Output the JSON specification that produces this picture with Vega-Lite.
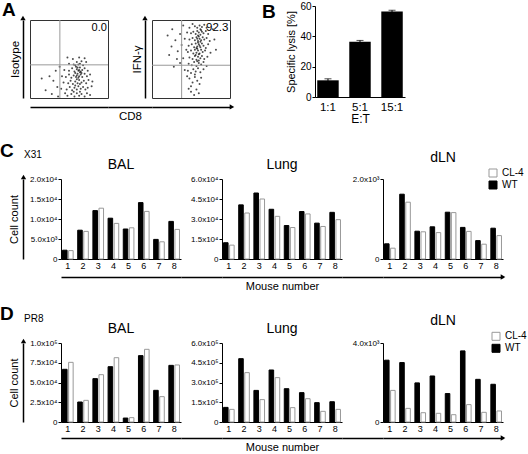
{
"$schema": "https://vega.github.io/schema/vega-lite/v6.json",
"background": "white",
"padding": {"left": 0, "top": 0, "right": 0, "bottom": 0},
"config": {
  "view": {"stroke": null},
  "font": "Liberation Sans",
  "axis": {"domainColor": "black", "tickColor": "black", "labelColor": "black", "titleColor": "black", "grid": false, "labelFont": "Liberation Sans", "titleFont": "Liberation Sans", "titleFontWeight": "normal", "domainWidth": 1, "tickWidth": 1},
  "title": {"font": "Liberation Sans", "fontWeight": "normal", "color": "black", "baseline": "alphabetic"},
  "legend": {"labelFont": "Liberation Sans", "labelColor": "black"}
},
"datasets": {
  "cells": [
    {"virus":"X31","organ":"BAL","mouse":1,"strain":"WT","count":2200},{"virus":"X31","organ":"BAL","mouse":1,"strain":"CL-4","count":2100},
    {"virus":"X31","organ":"BAL","mouse":2,"strain":"WT","count":7200},{"virus":"X31","organ":"BAL","mouse":2,"strain":"CL-4","count":6900},
    {"virus":"X31","organ":"BAL","mouse":3,"strain":"WT","count":12100},{"virus":"X31","organ":"BAL","mouse":3,"strain":"CL-4","count":12700},
    {"virus":"X31","organ":"BAL","mouse":4,"strain":"WT","count":10200},{"virus":"X31","organ":"BAL","mouse":4,"strain":"CL-4","count":8900},
    {"virus":"X31","organ":"BAL","mouse":5,"strain":"WT","count":7500},{"virus":"X31","organ":"BAL","mouse":5,"strain":"CL-4","count":7800},
    {"virus":"X31","organ":"BAL","mouse":6,"strain":"WT","count":14100},{"virus":"X31","organ":"BAL","mouse":6,"strain":"CL-4","count":11900},
    {"virus":"X31","organ":"BAL","mouse":7,"strain":"WT","count":4900},{"virus":"X31","organ":"BAL","mouse":7,"strain":"CL-4","count":4300},
    {"virus":"X31","organ":"BAL","mouse":8,"strain":"WT","count":9400},{"virus":"X31","organ":"BAL","mouse":8,"strain":"CL-4","count":7400},
    {"virus":"X31","organ":"Lung","mouse":1,"strain":"WT","count":12200},{"virus":"X31","organ":"Lung","mouse":1,"strain":"CL-4","count":10400},
    {"virus":"X31","organ":"Lung","mouse":2,"strain":"WT","count":40600},{"virus":"X31","organ":"Lung","mouse":2,"strain":"CL-4","count":34500},
    {"virus":"X31","organ":"Lung","mouse":3,"strain":"WT","count":49500},{"virus":"X31","organ":"Lung","mouse":3,"strain":"CL-4","count":45000},
    {"virus":"X31","organ":"Lung","mouse":4,"strain":"WT","count":37300},{"virus":"X31","organ":"Lung","mouse":4,"strain":"CL-4","count":32000},
    {"virus":"X31","organ":"Lung","mouse":5,"strain":"WT","count":25100},{"virus":"X31","organ":"Lung","mouse":5,"strain":"CL-4","count":23600},
    {"virus":"X31","organ":"Lung","mouse":6,"strain":"WT","count":35600},{"virus":"X31","organ":"Lung","mouse":6,"strain":"CL-4","count":33800},
    {"virus":"X31","organ":"Lung","mouse":7,"strain":"WT","count":26900},{"virus":"X31","organ":"Lung","mouse":7,"strain":"CL-4","count":24400},
    {"virus":"X31","organ":"Lung","mouse":8,"strain":"WT","count":35000},{"virus":"X31","organ":"Lung","mouse":8,"strain":"CL-4","count":29500},
    {"virus":"X31","organ":"dLN","mouse":1,"strain":"WT","count":380},{"virus":"X31","organ":"dLN","mouse":1,"strain":"CL-4","count":270},
    {"virus":"X31","organ":"dLN","mouse":2,"strain":"WT","count":1620},{"virus":"X31","organ":"dLN","mouse":2,"strain":"CL-4","count":1420},
    {"virus":"X31","organ":"dLN","mouse":3,"strain":"WT","count":695},{"virus":"X31","organ":"dLN","mouse":3,"strain":"CL-4","count":680},
    {"virus":"X31","organ":"dLN","mouse":4,"strain":"WT","count":805},{"virus":"X31","organ":"dLN","mouse":4,"strain":"CL-4","count":660},
    {"virus":"X31","organ":"dLN","mouse":5,"strain":"WT","count":1170},{"virus":"X31","organ":"dLN","mouse":5,"strain":"CL-4","count":1160},
    {"virus":"X31","organ":"dLN","mouse":6,"strain":"WT","count":790},{"virus":"X31","organ":"dLN","mouse":6,"strain":"CL-4","count":690},
    {"virus":"X31","organ":"dLN","mouse":7,"strain":"WT","count":460},{"virus":"X31","organ":"dLN","mouse":7,"strain":"CL-4","count":370},
    {"virus":"X31","organ":"dLN","mouse":8,"strain":"WT","count":770},{"virus":"X31","organ":"dLN","mouse":8,"strain":"CL-4","count":585},
    {"virus":"PR8","organ":"BAL","mouse":1,"strain":"WT","count":66700},{"virus":"PR8","organ":"BAL","mouse":1,"strain":"CL-4","count":75500},
    {"virus":"PR8","organ":"BAL","mouse":2,"strain":"WT","count":25300},{"virus":"PR8","organ":"BAL","mouse":2,"strain":"CL-4","count":27400},
    {"virus":"PR8","organ":"BAL","mouse":3,"strain":"WT","count":54900},{"virus":"PR8","organ":"BAL","mouse":3,"strain":"CL-4","count":59900},
    {"virus":"PR8","organ":"BAL","mouse":4,"strain":"WT","count":70000},{"virus":"PR8","organ":"BAL","mouse":4,"strain":"CL-4","count":81400},
    {"virus":"PR8","organ":"BAL","mouse":5,"strain":"WT","count":5000},{"virus":"PR8","organ":"BAL","mouse":5,"strain":"CL-4","count":5500},
    {"virus":"PR8","organ":"BAL","mouse":6,"strain":"WT","count":84000},{"virus":"PR8","organ":"BAL","mouse":6,"strain":"CL-4","count":92000},
    {"virus":"PR8","organ":"BAL","mouse":7,"strain":"WT","count":40100},{"virus":"PR8","organ":"BAL","mouse":7,"strain":"CL-4","count":32100},
    {"virus":"PR8","organ":"BAL","mouse":8,"strain":"WT","count":71700},{"virus":"PR8","organ":"BAL","mouse":8,"strain":"CL-4","count":72200},
    {"virus":"PR8","organ":"Lung","mouse":1,"strain":"WT","count":111000},{"virus":"PR8","organ":"Lung","mouse":1,"strain":"CL-4","count":96000},
    {"virus":"PR8","organ":"Lung","mouse":2,"strain":"WT","count":481000},{"virus":"PR8","organ":"Lung","mouse":2,"strain":"CL-4","count":375000},
    {"virus":"PR8","organ":"Lung","mouse":3,"strain":"WT","count":240000},{"virus":"PR8","organ":"Lung","mouse":3,"strain":"CL-4","count":170000},
    {"virus":"PR8","organ":"Lung","mouse":4,"strain":"WT","count":395000},{"virus":"PR8","organ":"Lung","mouse":4,"strain":"CL-4","count":337000},
    {"virus":"PR8","organ":"Lung","mouse":5,"strain":"WT","count":253000},{"virus":"PR8","organ":"Lung","mouse":5,"strain":"CL-4","count":109000},
    {"virus":"PR8","organ":"Lung","mouse":6,"strain":"WT","count":223000},{"virus":"PR8","organ":"Lung","mouse":6,"strain":"CL-4","count":177000},
    {"virus":"PR8","organ":"Lung","mouse":7,"strain":"WT","count":147000},{"virus":"PR8","organ":"Lung","mouse":7,"strain":"CL-4","count":81000},
    {"virus":"PR8","organ":"Lung","mouse":8,"strain":"WT","count":154000},{"virus":"PR8","organ":"Lung","mouse":8,"strain":"CL-4","count":96000},
    {"virus":"PR8","organ":"dLN","mouse":1,"strain":"WT","count":3130},{"virus":"PR8","organ":"dLN","mouse":1,"strain":"CL-4","count":1600},
    {"virus":"PR8","organ":"dLN","mouse":2,"strain":"WT","count":3010},{"virus":"PR8","organ":"dLN","mouse":2,"strain":"CL-4","count":690},
    {"virus":"PR8","organ":"dLN","mouse":3,"strain":"WT","count":1980},{"virus":"PR8","organ":"dLN","mouse":3,"strain":"CL-4","count":470},
    {"virus":"PR8","organ":"dLN","mouse":4,"strain":"WT","count":2330},{"virus":"PR8","organ":"dLN","mouse":4,"strain":"CL-4","count":440},
    {"virus":"PR8","organ":"dLN","mouse":5,"strain":"WT","count":1440},{"virus":"PR8","organ":"dLN","mouse":5,"strain":"CL-4","count":370},
    {"virus":"PR8","organ":"dLN","mouse":6,"strain":"WT","count":3600},{"virus":"PR8","organ":"dLN","mouse":6,"strain":"CL-4","count":880},
    {"virus":"PR8","organ":"dLN","mouse":7,"strain":"WT","count":2160},{"virus":"PR8","organ":"dLN","mouse":7,"strain":"CL-4","count":490},
    {"virus":"PR8","organ":"dLN","mouse":8,"strain":"WT","count":1910},{"virus":"PR8","organ":"dLN","mouse":8,"strain":"CL-4","count":560}
  ],
  "flow": [
    {"stain":"Isotype","cd8":48,"marker":3},{"stain":"Isotype","cd8":53,"marker":5},{"stain":"Isotype","cd8":57,"marker":2},{"stain":"Isotype","cd8":60,"marker":6},{"stain":"Isotype","cd8":63,"marker":3},{"stain":"Isotype","cd8":66,"marker":5},{"stain":"Isotype","cd8":70,"marker":2},{"stain":"Isotype","cd8":73,"marker":6},{"stain":"Isotype","cd8":56,"marker":8},{"stain":"Isotype","cd8":64,"marker":8},{"stain":"Isotype","cd8":45,"marker":6},{"stain":"Isotype","cd8":77,"marker":4},
    {"stain":"Isotype","cd8":40,"marker":12},{"stain":"Isotype","cd8":47,"marker":11},{"stain":"Isotype","cd8":51,"marker":14},{"stain":"Isotype","cd8":54,"marker":10},{"stain":"Isotype","cd8":57,"marker":13},{"stain":"Isotype","cd8":60,"marker":11},{"stain":"Isotype","cd8":62,"marker":15},{"stain":"Isotype","cd8":65,"marker":12},{"stain":"Isotype","cd8":68,"marker":14},{"stain":"Isotype","cd8":71,"marker":11},{"stain":"Isotype","cd8":74,"marker":13},{"stain":"Isotype","cd8":79,"marker":15},{"stain":"Isotype","cd8":35,"marker":14},{"stain":"Isotype","cd8":58,"marker":16},
    {"stain":"Isotype","cd8":43,"marker":20},{"stain":"Isotype","cd8":49,"marker":19},{"stain":"Isotype","cd8":52,"marker":22},{"stain":"Isotype","cd8":55,"marker":18},{"stain":"Isotype","cd8":58,"marker":21},{"stain":"Isotype","cd8":61,"marker":19},{"stain":"Isotype","cd8":63,"marker":23},{"stain":"Isotype","cd8":66,"marker":20},{"stain":"Isotype","cd8":69,"marker":22},{"stain":"Isotype","cd8":72,"marker":19},{"stain":"Isotype","cd8":75,"marker":23},{"stain":"Isotype","cd8":80,"marker":21},{"stain":"Isotype","cd8":30,"marker":22},{"stain":"Isotype","cd8":60,"marker":24},{"stain":"Isotype","cd8":64,"marker":18},
    {"stain":"Isotype","cd8":41,"marker":28},{"stain":"Isotype","cd8":46,"marker":27},{"stain":"Isotype","cd8":50,"marker":30},{"stain":"Isotype","cd8":53,"marker":26},{"stain":"Isotype","cd8":56,"marker":29},{"stain":"Isotype","cd8":59,"marker":27},{"stain":"Isotype","cd8":61,"marker":31},{"stain":"Isotype","cd8":63,"marker":28},{"stain":"Isotype","cd8":65,"marker":30},{"stain":"Isotype","cd8":67,"marker":27},{"stain":"Isotype","cd8":70,"marker":31},{"stain":"Isotype","cd8":73,"marker":28},{"stain":"Isotype","cd8":77,"marker":30},{"stain":"Isotype","cd8":58,"marker":32},{"stain":"Isotype","cd8":62,"marker":26},{"stain":"Isotype","cd8":64,"marker":33},{"stain":"Isotype","cd8":60,"marker":29},{"stain":"Isotype","cd8":66,"marker":32},{"stain":"Isotype","cd8":25,"marker":28},
    {"stain":"Isotype","cd8":44,"marker":36},{"stain":"Isotype","cd8":50,"marker":35},{"stain":"Isotype","cd8":54,"marker":38},{"stain":"Isotype","cd8":57,"marker":34},{"stain":"Isotype","cd8":60,"marker":37},{"stain":"Isotype","cd8":62,"marker":35},{"stain":"Isotype","cd8":64,"marker":39},{"stain":"Isotype","cd8":67,"marker":36},{"stain":"Isotype","cd8":70,"marker":38},{"stain":"Isotype","cd8":74,"marker":35},{"stain":"Isotype","cd8":59,"marker":40},{"stain":"Isotype","cd8":65,"marker":34},{"stain":"Isotype","cd8":61,"marker":39},{"stain":"Isotype","cd8":63,"marker":36},
    {"stain":"Isotype","cd8":50,"marker":44},{"stain":"Isotype","cd8":56,"marker":43},{"stain":"Isotype","cd8":60,"marker":46},{"stain":"Isotype","cd8":64,"marker":44},{"stain":"Isotype","cd8":68,"marker":42},{"stain":"Isotype","cd8":72,"marker":46},{"stain":"Isotype","cd8":58,"marker":42},{"stain":"Isotype","cd8":62,"marker":43},{"stain":"Isotype","cd8":66,"marker":47},
    {"stain":"Isotype","cd8":55,"marker":50},{"stain":"Isotype","cd8":63,"marker":52},{"stain":"Isotype","cd8":70,"marker":51},{"stain":"Isotype","cd8":48,"marker":52},
    {"stain":"Isotype","cd8":20,"marker":10},{"stain":"Isotype","cd8":28,"marker":5},{"stain":"Isotype","cd8":33,"marker":35},{"stain":"Isotype","cd8":38,"marker":40},{"stain":"Isotype","cd8":15,"marker":25},{"stain":"Isotype","cd8":36,"marker":2},
    {"stain":"IFN","cd8":55,"marker":92},{"stain":"IFN","cd8":58,"marker":90},{"stain":"IFN","cd8":61,"marker":93},{"stain":"IFN","cd8":64,"marker":91},{"stain":"IFN","cd8":67,"marker":94},{"stain":"IFN","cd8":52,"marker":95},{"stain":"IFN","cd8":70,"marker":90},{"stain":"IFN","cd8":62,"marker":88},{"stain":"IFN","cd8":48,"marker":90},{"stain":"IFN","cd8":40,"marker":93},
    {"stain":"IFN","cd8":50,"marker":83},{"stain":"IFN","cd8":53,"marker":85},{"stain":"IFN","cd8":56,"marker":82},{"stain":"IFN","cd8":58,"marker":86},{"stain":"IFN","cd8":60,"marker":84},{"stain":"IFN","cd8":62,"marker":81},{"stain":"IFN","cd8":64,"marker":85},{"stain":"IFN","cd8":66,"marker":83},{"stain":"IFN","cd8":69,"marker":86},{"stain":"IFN","cd8":72,"marker":82},{"stain":"IFN","cd8":59,"marker":80},{"stain":"IFN","cd8":63,"marker":87},{"stain":"IFN","cd8":45,"marker":84},{"stain":"IFN","cd8":36,"marker":82},
    {"stain":"IFN","cd8":48,"marker":75},{"stain":"IFN","cd8":52,"marker":77},{"stain":"IFN","cd8":55,"marker":74},{"stain":"IFN","cd8":57,"marker":78},{"stain":"IFN","cd8":59,"marker":73},{"stain":"IFN","cd8":61,"marker":76},{"stain":"IFN","cd8":63,"marker":74},{"stain":"IFN","cd8":65,"marker":78},{"stain":"IFN","cd8":67,"marker":75},{"stain":"IFN","cd8":70,"marker":77},{"stain":"IFN","cd8":60,"marker":79},{"stain":"IFN","cd8":62,"marker":72},{"stain":"IFN","cd8":58,"marker":76},{"stain":"IFN","cd8":74,"marker":73},{"stain":"IFN","cd8":42,"marker":76},{"stain":"IFN","cd8":30,"marker":74},
    {"stain":"IFN","cd8":47,"marker":67},{"stain":"IFN","cd8":51,"marker":69},{"stain":"IFN","cd8":54,"marker":65},{"stain":"IFN","cd8":56,"marker":70},{"stain":"IFN","cd8":58,"marker":66},{"stain":"IFN","cd8":60,"marker":69},{"stain":"IFN","cd8":62,"marker":65},{"stain":"IFN","cd8":64,"marker":70},{"stain":"IFN","cd8":66,"marker":67},{"stain":"IFN","cd8":69,"marker":64},{"stain":"IFN","cd8":59,"marker":71},{"stain":"IFN","cd8":61,"marker":67},{"stain":"IFN","cd8":57,"marker":64},{"stain":"IFN","cd8":72,"marker":69},{"stain":"IFN","cd8":38,"marker":68},{"stain":"IFN","cd8":25,"marker":66},
    {"stain":"IFN","cd8":46,"marker":59},{"stain":"IFN","cd8":50,"marker":61},{"stain":"IFN","cd8":53,"marker":57},{"stain":"IFN","cd8":55,"marker":62},{"stain":"IFN","cd8":57,"marker":58},{"stain":"IFN","cd8":59,"marker":61},{"stain":"IFN","cd8":61,"marker":57},{"stain":"IFN","cd8":63,"marker":62},{"stain":"IFN","cd8":65,"marker":59},{"stain":"IFN","cd8":68,"marker":61},{"stain":"IFN","cd8":58,"marker":63},{"stain":"IFN","cd8":60,"marker":56},{"stain":"IFN","cd8":44,"marker":62},{"stain":"IFN","cd8":75,"marker":58},{"stain":"IFN","cd8":33,"marker":60},
    {"stain":"IFN","cd8":48,"marker":52},{"stain":"IFN","cd8":52,"marker":50},{"stain":"IFN","cd8":55,"marker":54},{"stain":"IFN","cd8":57,"marker":49},{"stain":"IFN","cd8":59,"marker":53},{"stain":"IFN","cd8":62,"marker":51},{"stain":"IFN","cd8":64,"marker":54},{"stain":"IFN","cd8":67,"marker":50},{"stain":"IFN","cd8":56,"marker":55},{"stain":"IFN","cd8":60,"marker":48},{"stain":"IFN","cd8":40,"marker":51},{"stain":"IFN","cd8":71,"marker":53},
    {"stain":"IFN","cd8":47,"marker":44},{"stain":"IFN","cd8":51,"marker":42},{"stain":"IFN","cd8":54,"marker":46},{"stain":"IFN","cd8":57,"marker":41},{"stain":"IFN","cd8":60,"marker":45},{"stain":"IFN","cd8":63,"marker":43},{"stain":"IFN","cd8":66,"marker":46},{"stain":"IFN","cd8":58,"marker":47},{"stain":"IFN","cd8":36,"marker":45},{"stain":"IFN","cd8":70,"marker":41},
    {"stain":"IFN","cd8":46,"marker":35},{"stain":"IFN","cd8":50,"marker":32},{"stain":"IFN","cd8":53,"marker":37},{"stain":"IFN","cd8":56,"marker":34},{"stain":"IFN","cd8":59,"marker":38},{"stain":"IFN","cd8":62,"marker":33},{"stain":"IFN","cd8":55,"marker":30},{"stain":"IFN","cd8":42,"marker":36},{"stain":"IFN","cd8":66,"marker":37},
    {"stain":"IFN","cd8":48,"marker":25},{"stain":"IFN","cd8":52,"marker":20},{"stain":"IFN","cd8":55,"marker":27},{"stain":"IFN","cd8":58,"marker":22},{"stain":"IFN","cd8":61,"marker":18},{"stain":"IFN","cd8":50,"marker":15},{"stain":"IFN","cd8":45,"marker":28},{"stain":"IFN","cd8":63,"marker":26},
    {"stain":"IFN","cd8":50,"marker":8},{"stain":"IFN","cd8":54,"marker":4},{"stain":"IFN","cd8":57,"marker":11},{"stain":"IFN","cd8":47,"marker":12},{"stain":"IFN","cd8":60,"marker":6},
    {"stain":"IFN","cd8":20,"marker":80},{"stain":"IFN","cd8":26,"marker":88},{"stain":"IFN","cd8":32,"marker":50},{"stain":"IFN","cd8":22,"marker":55},{"stain":"IFN","cd8":80,"marker":75},{"stain":"IFN","cd8":82,"marker":62},{"stain":"IFN","cd8":78,"marker":88},{"stain":"IFN","cd8":28,"marker":40}
  ]
},
"spacing": 17,
"resolve": {"scale": {"fill": "independent", "stroke": "independent"}, "legend": {"fill": "independent"}},
"vconcat": [
  {
    "spacing": 27,
    "hconcat": [
      {
        "bounds": "flush", "spacing": 13,
        "vconcat": [
          {"width": 1, "height": 1, "data": {"values": [{"note": ""}]}, "mark": {"type": "text"}, "encoding": {"text": {"field": "note"}}},
          {
            "bounds": "flush", "spacing": 0,
            "hconcat": [
              {"width": 7, "height": 78, "data": {"values": [{"note": ""}]}, "mark": {"type": "text"}, "encoding": {"text": {"field": "note"}}},
              {
                "width": 78, "height": 78,
                "title": {"text": "A", "anchor": "start", "frame": "group", "dx": -28, "fontSize": 19, "fontWeight": "bold", "offset": -4},
                "view": {"stroke": "#333", "strokeWidth": 1},
                "layer": [
                  {"data": {"name": "flow"}, "transform": [{"filter": "datum.stain == 'Isotype'"}],
                   "mark": {"type": "circle", "size": 4, "color": "black", "opacity": 0.7},
                   "encoding": {
                     "x": {"field": "cd8", "type": "quantitative", "scale": {"domain": [0, 100], "nice": false}, "axis": {"orient": "bottom", "offset": 9, "labels": false, "ticks": false, "domainWidth": 1.5, "title": null}},
                     "y": {"field": "marker", "type": "quantitative", "scale": {"domain": [0, 100], "nice": false}, "axis": {"title": "Isotype", "offset": 7, "labels": false, "ticks": false, "domainWidth": 1.5, "titleFontSize": 11.5, "titlePadding": 3}}}},
                  {"data": {"values": [{"cd8": 38.3, "marker": 42.5}]}, "mark": {"type": "rule", "color": "#999", "strokeWidth": 1}, "encoding": {"x": {"field": "cd8", "type": "quantitative"}}},
                  {"data": {"values": [{"cd8": 38.3, "marker": 42.5}]}, "mark": {"type": "rule", "color": "#999", "strokeWidth": 1}, "encoding": {"y": {"field": "marker", "type": "quantitative"}}},
                  {"data": {"values": [{"cd8": 98.5, "marker": 98, "pct": "0.0"}]}, "mark": {"type": "text", "align": "right", "baseline": "top", "fontSize": 11, "color": "black"}, "encoding": {"x": {"field": "cd8", "type": "quantitative"}, "y": {"field": "marker", "type": "quantitative"}, "text": {"field": "pct"}}},
                  {"data": {"values": [{"cd8": -9, "marker": 100}]}, "mark": {"type": "point", "shape": "triangle-up", "filled": true, "color": "black", "size": 28, "opacity": 1, "yOffset": -2}, "encoding": {"x": {"field": "cd8", "type": "quantitative"}, "y": {"field": "marker", "type": "quantitative"}}}
                ]
              },
              {
                "width": 44, "height": 78,
                "data": {"values": [{"end": 0}]},
                "mark": {"type": "text"},
                "encoding": {"text": {"value": ""}, "x": {"field": "end", "type": "quantitative", "scale": {"domain": [0, 1]}, "axis": {"orient": "bottom", "offset": 9, "labels": false, "ticks": false, "domainWidth": 1.5, "title": "CD8", "titleFontSize": 11.5, "titlePadding": 3}}}
              },
              {
                "width": 78, "height": 78,
                "view": {"stroke": "#333", "strokeWidth": 1},
                "layer": [
                  {"data": {"name": "flow"}, "transform": [{"filter": "datum.stain == 'IFN'"}],
                   "mark": {"type": "circle", "size": 4, "color": "black", "opacity": 0.7},
                   "encoding": {
                     "x": {"field": "cd8", "type": "quantitative", "scale": {"domain": [0, 100], "nice": false}, "axis": {"orient": "bottom", "offset": 9, "labels": false, "ticks": false, "domainWidth": 1.5, "title": null}},
                     "y": {"field": "marker", "type": "quantitative", "scale": {"domain": [0, 100], "nice": false}, "axis": {"title": "IFN-γ", "offset": 7, "labels": false, "ticks": false, "domainWidth": 1.5, "titleFontSize": 11.5, "titlePadding": 3}}}},
                  {"data": {"values": [{"cd8": 38, "marker": 42}]}, "mark": {"type": "rule", "color": "#999", "strokeWidth": 1}, "encoding": {"x": {"field": "cd8", "type": "quantitative"}}},
                  {"data": {"values": [{"cd8": 38, "marker": 42}]}, "mark": {"type": "rule", "color": "#999", "strokeWidth": 1}, "encoding": {"y": {"field": "marker", "type": "quantitative"}}},
                  {"data": {"values": [{"cd8": 98, "marker": 98, "pct": "92.3"}]}, "mark": {"type": "text", "align": "right", "baseline": "top", "fontSize": 11.5, "color": "black"}, "encoding": {"x": {"field": "cd8", "type": "quantitative"}, "y": {"field": "marker", "type": "quantitative"}, "text": {"field": "pct"}}},
                  {"data": {"values": [{"cd8": -9, "marker": 100}]}, "mark": {"type": "point", "shape": "triangle-up", "filled": true, "color": "black", "size": 28, "opacity": 1, "yOffset": -2}, "encoding": {"x": {"field": "cd8", "type": "quantitative"}, "y": {"field": "marker", "type": "quantitative"}}},
                  {"data": {"values": [{"cd8": 102.5, "marker": -11.5}]}, "mark": {"type": "point", "shape": "triangle-right", "filled": true, "color": "black", "size": 28, "opacity": 1}, "encoding": {"x": {"field": "cd8", "type": "quantitative"}, "y": {"field": "marker", "type": "quantitative"}}}
                ]
              }
            ]
          }
        ]
      },
      {
        "title": {"text": "B", "anchor": "start", "frame": "group", "dx": -53, "fontSize": 19, "fontWeight": "bold", "offset": -21},
        "width": 90, "height": 91,
        "data": {"values": [{"ratio": "1:1", "lysis": 11, "lo": 10, "hi": 12}, {"ratio": "5:1", "lysis": 36.5, "lo": 35.7, "hi": 37.3}, {"ratio": "15:1", "lysis": 56.3, "lo": 55.4, "hi": 57.2}]},
        "resolve": {"axis": {"y": "independent"}},
        "encoding": {
          "x": {"field": "ratio", "type": "nominal", "sort": ["1:1", "5:1", "15:1"], "scale": {"paddingInner": 0.33, "paddingOuter": 0.07}, "axis": {"title": "E:T", "labelAngle": 0, "ticks": false, "labelFontSize": 11.5, "titleFontSize": 12, "labelPadding": 4, "titlePadding": 1}}
        },
        "layer": [
          {"mark": {"type": "bar", "color": "black"},
           "encoding": {"y": {"field": "lysis", "type": "quantitative", "scale": {"domain": [0, 60]}, "axis": {"values": [0, 20, 40, 60], "title": "Specific lysis [%]", "labelOverlap": false, "labelFlush": false, "labelFontSize": 10, "titleFontSize": 11, "tickSize": 3, "labelPadding": 1, "titleX": -19, "titleY": 45.5}}}},
          {"mark": {"type": "rule", "color": "black", "strokeWidth": 1},
           "encoding": {"y": {"field": "lo", "type": "quantitative", "axis": null}, "y2": {"field": "hi"}}},
          {"mark": {"type": "tick", "color": "black", "thickness": 1, "size": 7, "orient": "horizontal"},
           "encoding": {"y": {"field": "hi", "type": "quantitative", "axis": null}}}
        ]
      }
    ]
  },
  {
    "spacing": 14,
    "resolve": {"scale": {"fill": "independent", "stroke": "independent"}, "legend": {"fill": "independent"}},
    "vconcat": [
      {
        "bounds": "flush", "spacing": 0,
        "resolve": {"scale": {"fill": "independent", "stroke": "independent"}, "legend": {"fill": "independent"}},
        "hconcat": [
          {"width": 1, "height": 80,
           "title": {"text": "X31", "anchor": "start", "frame": "group", "fontSize": 10, "offset": 15, "dx": 1},
           "data": {"values": [{"end": 1}]},
           "mark": {"type": "point", "shape": "triangle-up", "filled": true, "color": "black", "size": 28, "opacity": 1, "yOffset": -2},
           "encoding": {"y": {"field": "end", "type": "quantitative", "scale": {"domain": [0, 1]}, "axis": {"title": "Cell count", "labels": false, "ticks": false, "domainWidth": 1.5, "titleFontSize": 11, "titlePadding": 4}}}},
          {"width": 37, "height": 80,
           "title": {"text": "C", "anchor": "start", "frame": "group", "dx": -24, "fontSize": 19, "fontWeight": "bold", "offset": 18},
           "data": {"values": [{"end": 0}]}, "mark": {"type": "text"}, "encoding": {"text": {"value": ""}}},
          {"width": 120, "height": 80, "title": {"text": "BAL", "fontSize": 14, "offset": 3},
           "data": {"name": "cells"}, "transform": [{"filter": "datum.virus == 'X31' && datum.organ == 'BAL'"}],
           "resolve": {"scale": {"x": "independent"}},
           "layer": [
             {"mark": {"type": "bar", "strokeWidth": 1},
              "encoding": {
                "x": {"field": "mouse", "type": "ordinal", "scale": {"paddingInner": 0.3, "paddingOuter": 0.1}, "axis": {"title": null, "labelAngle": 0, "ticks": false, "labelFontSize": 9, "labelPadding": 2}},
                "xOffset": {"field": "strain", "scale": {"domain": ["WT", "CL-4"], "paddingInner": 0.25}},
                "y": {"field": "count", "type": "quantitative", "scale": {"domain": [0, 20000]}, "axis": {"title": null, "values": [0, 5000, 10000, 15000, 20000], "labelExpr": "datum.value == 0 ? '0' : format(datum.value / pow(10, floor(log(datum.value) / LN10 + 1e-9)), '.1f') + 'x10' + ['⁰','¹','²','³','⁴','⁵','⁶'][floor(log(datum.value) / LN10 + 1e-9)]", "labelFontSize": 8, "tickSize": 3, "labelPadding": 1}},
                "fill": {"field": "strain", "type": "nominal", "scale": {"domain": ["CL-4", "WT"], "range": ["white", "black"]}, "legend": null},
                "stroke": {"field": "strain", "type": "nominal", "scale": {"domain": ["CL-4", "WT"], "range": ["#999", "black"]}, "legend": null}}},
             {"data": {"values": [{"end": 0}]}, "mark": {"type": "text"}, "encoding": {"text": {"value": ""}, "x": {"field": "end", "type": "quantitative", "scale": {"domain": [0, 1]}, "axis": {"orient": "bottom", "offset": 18, "labels": false, "ticks": false, "domainWidth": 1.5, "title": null}}}}
           ]},
          {"width": 41, "height": 80,
           "data": {"values": [{"end": 0}]}, "mark": {"type": "text"},
           "encoding": {"text": {"value": ""}, "x": {"field": "end", "type": "quantitative", "scale": {"domain": [0, 1]}, "axis": {"orient": "bottom", "offset": 18, "labels": false, "ticks": false, "domainWidth": 1.5, "title": null}}}},
          {"width": 120, "height": 80, "title": {"text": "Lung", "fontSize": 14, "offset": 3},
           "data": {"name": "cells"}, "transform": [{"filter": "datum.virus == 'X31' && datum.organ == 'Lung'"}],
           "resolve": {"scale": {"x": "independent"}},
           "layer": [
             {"mark": {"type": "bar", "strokeWidth": 1},
              "encoding": {
                "x": {"field": "mouse", "type": "ordinal", "scale": {"paddingInner": 0.3, "paddingOuter": 0.1}, "axis": {"title": null, "labelAngle": 0, "ticks": false, "labelFontSize": 9, "labelPadding": 2}},
                "xOffset": {"field": "strain", "scale": {"domain": ["WT", "CL-4"], "paddingInner": 0.25}},
                "y": {"field": "count", "type": "quantitative", "scale": {"domain": [0, 60000]}, "axis": {"title": null, "values": [0, 15000, 30000, 45000, 60000], "labelExpr": "datum.value == 0 ? '0' : format(datum.value / pow(10, floor(log(datum.value) / LN10 + 1e-9)), '.1f') + 'x10' + ['⁰','¹','²','³','⁴','⁵','⁶'][floor(log(datum.value) / LN10 + 1e-9)]", "labelFontSize": 8, "tickSize": 3, "labelPadding": 1}},
                "fill": {"field": "strain", "type": "nominal", "scale": {"domain": ["CL-4", "WT"], "range": ["white", "black"]}, "legend": null},
                "stroke": {"field": "strain", "type": "nominal", "scale": {"domain": ["CL-4", "WT"], "range": ["#999", "black"]}, "legend": null}}},
             {"data": {"values": [{"end": 0}]}, "mark": {"type": "text"}, "encoding": {"text": {"value": ""}, "x": {"field": "end", "type": "quantitative", "scale": {"domain": [0, 1]}, "axis": {"orient": "bottom", "offset": 18, "labels": false, "ticks": false, "domainWidth": 1.5, "title": "Mouse number", "titleFontSize": 11, "titlePadding": 3}}}}
           ]},
          {"width": 41, "height": 80,
           "data": {"values": [{"end": 0}]}, "mark": {"type": "text"},
           "encoding": {"text": {"value": ""}, "x": {"field": "end", "type": "quantitative", "scale": {"domain": [0, 1]}, "axis": {"orient": "bottom", "offset": 18, "labels": false, "ticks": false, "domainWidth": 1.5, "title": null}}}},
          {"width": 120, "height": 80, "title": {"text": "dLN", "fontSize": 14, "offset": 3},
           "data": {"name": "cells"}, "transform": [{"filter": "datum.virus == 'X31' && datum.organ == 'dLN'"}],
           "resolve": {"scale": {"x": "independent"}},
           "layer": [
             {"mark": {"type": "bar", "strokeWidth": 1},
              "encoding": {
                "x": {"field": "mouse", "type": "ordinal", "scale": {"paddingInner": 0.3, "paddingOuter": 0.1}, "axis": {"title": null, "labelAngle": 0, "ticks": false, "labelFontSize": 9, "labelPadding": 2}},
                "xOffset": {"field": "strain", "scale": {"domain": ["WT", "CL-4"], "paddingInner": 0.25}},
                "y": {"field": "count", "type": "quantitative", "scale": {"domain": [0, 2000]}, "axis": {"title": null, "values": [0, 500, 1000, 1500, 2000], "labelExpr": "datum.value == 0 ? '0' : format(datum.value / pow(10, floor(log(datum.value) / LN10 + 1e-9)), '.1f') + 'x10' + ['⁰','¹','²','³','⁴','⁵','⁶'][floor(log(datum.value) / LN10 + 1e-9)]", "labelFontSize": 8, "tickSize": 3, "labelPadding": 1}},
                "fill": {"field": "strain", "type": "nominal", "scale": {"domain": ["CL-4", "WT"], "range": ["white", "black"]}, "legend": {"orient": "none", "legendX": 105, "legendY": -11, "title": null, "direction": "vertical", "symbolType": "square", "symbolSize": 64, "symbolStrokeColor": "black", "symbolStrokeWidth": 1, "labelFontSize": 10, "rowPadding": 0, "padding": 0, "labelOffset": 4}},
                "stroke": {"field": "strain", "type": "nominal", "scale": {"domain": ["CL-4", "WT"], "range": ["#999", "black"]}, "legend": null}}},
             {"data": {"values": [{"end": 1, "level": -450}]}, "mark": {"type": "point", "shape": "triangle-right", "filled": true, "color": "black", "size": 28, "opacity": 1},
              "encoding": {"x": {"field": "end", "type": "quantitative", "scale": {"domain": [0, 1]}, "axis": {"orient": "bottom", "offset": 18, "labels": false, "ticks": false, "domainWidth": 1.5, "title": null}}, "y": {"field": "level", "type": "quantitative"}}}
           ]}
        ]
      },
      {
        "bounds": "flush", "spacing": 0,
        "resolve": {"scale": {"fill": "independent", "stroke": "independent"}, "legend": {"fill": "independent"}},
        "hconcat": [
          {"width": 1, "height": 79,
           "title": {"text": "PR8", "anchor": "start", "frame": "group", "fontSize": 10, "offset": 15, "dx": 1},
           "data": {"values": [{"end": 1}]},
           "mark": {"type": "point", "shape": "triangle-up", "filled": true, "color": "black", "size": 28, "opacity": 1, "yOffset": -2},
           "encoding": {"y": {"field": "end", "type": "quantitative", "scale": {"domain": [0, 1]}, "axis": {"title": "Cell count", "labels": false, "ticks": false, "domainWidth": 1.5, "titleFontSize": 11, "titlePadding": 4}}}},
          {"width": 37, "height": 79,
           "title": {"text": "D", "anchor": "start", "frame": "group", "dx": -24, "fontSize": 19, "fontWeight": "bold", "offset": 19},
           "data": {"values": [{"end": 0}]}, "mark": {"type": "text"}, "encoding": {"text": {"value": ""}}},
          {"width": 120, "height": 79, "title": {"text": "BAL", "fontSize": 14, "offset": 3},
           "data": {"name": "cells"}, "transform": [{"filter": "datum.virus == 'PR8' && datum.organ == 'BAL'"}],
           "resolve": {"scale": {"x": "independent"}},
           "layer": [
             {"mark": {"type": "bar", "strokeWidth": 1},
              "encoding": {
                "x": {"field": "mouse", "type": "ordinal", "scale": {"paddingInner": 0.3, "paddingOuter": 0.1}, "axis": {"title": null, "labelAngle": 0, "ticks": false, "labelFontSize": 9, "labelPadding": 2}},
                "xOffset": {"field": "strain", "scale": {"domain": ["WT", "CL-4"], "paddingInner": 0.25}},
                "y": {"field": "count", "type": "quantitative", "scale": {"domain": [0, 100000]}, "axis": {"title": null, "values": [0, 25000, 50000, 75000, 100000], "labelExpr": "datum.value == 0 ? '0' : format(datum.value / pow(10, floor(log(datum.value) / LN10 + 1e-9)), '.1f') + 'x10' + ['⁰','¹','²','³','⁴','⁵','⁶'][floor(log(datum.value) / LN10 + 1e-9)]", "labelFontSize": 8, "tickSize": 3, "labelPadding": 1}},
                "fill": {"field": "strain", "type": "nominal", "scale": {"domain": ["CL-4", "WT"], "range": ["white", "black"]}, "legend": null},
                "stroke": {"field": "strain", "type": "nominal", "scale": {"domain": ["CL-4", "WT"], "range": ["#999", "black"]}, "legend": null}}},
             {"data": {"values": [{"end": 0}]}, "mark": {"type": "text"}, "encoding": {"text": {"value": ""}, "x": {"field": "end", "type": "quantitative", "scale": {"domain": [0, 1]}, "axis": {"orient": "bottom", "offset": 16, "labels": false, "ticks": false, "domainWidth": 1.5, "title": null}}}}
           ]},
          {"width": 41, "height": 79,
           "data": {"values": [{"end": 0}]}, "mark": {"type": "text"},
           "encoding": {"text": {"value": ""}, "x": {"field": "end", "type": "quantitative", "scale": {"domain": [0, 1]}, "axis": {"orient": "bottom", "offset": 16, "labels": false, "ticks": false, "domainWidth": 1.5, "title": null}}}},
          {"width": 120, "height": 79, "title": {"text": "Lung", "fontSize": 14, "offset": 3},
           "data": {"name": "cells"}, "transform": [{"filter": "datum.virus == 'PR8' && datum.organ == 'Lung'"}],
           "resolve": {"scale": {"x": "independent"}},
           "layer": [
             {"mark": {"type": "bar", "strokeWidth": 1},
              "encoding": {
                "x": {"field": "mouse", "type": "ordinal", "scale": {"paddingInner": 0.3, "paddingOuter": 0.1}, "axis": {"title": null, "labelAngle": 0, "ticks": false, "labelFontSize": 9, "labelPadding": 2}},
                "xOffset": {"field": "strain", "scale": {"domain": ["WT", "CL-4"], "paddingInner": 0.25}},
                "y": {"field": "count", "type": "quantitative", "scale": {"domain": [0, 600000]}, "axis": {"title": null, "values": [0, 150000, 300000, 450000, 600000], "labelExpr": "datum.value == 0 ? '0' : format(datum.value / pow(10, floor(log(datum.value) / LN10 + 1e-9)), '.1f') + 'x10' + ['⁰','¹','²','³','⁴','⁵','⁶'][floor(log(datum.value) / LN10 + 1e-9)]", "labelFontSize": 8, "tickSize": 3, "labelPadding": 1}},
                "fill": {"field": "strain", "type": "nominal", "scale": {"domain": ["CL-4", "WT"], "range": ["white", "black"]}, "legend": null},
                "stroke": {"field": "strain", "type": "nominal", "scale": {"domain": ["CL-4", "WT"], "range": ["#999", "black"]}, "legend": null}}},
             {"data": {"values": [{"end": 0}]}, "mark": {"type": "text"}, "encoding": {"text": {"value": ""}, "x": {"field": "end", "type": "quantitative", "scale": {"domain": [0, 1]}, "axis": {"orient": "bottom", "offset": 16, "labels": false, "ticks": false, "domainWidth": 1.5, "title": "Mouse number", "titleFontSize": 11, "titlePadding": 3}}}}
           ]},
          {"width": 41, "height": 79,
           "data": {"values": [{"end": 0}]}, "mark": {"type": "text"},
           "encoding": {"text": {"value": ""}, "x": {"field": "end", "type": "quantitative", "scale": {"domain": [0, 1]}, "axis": {"orient": "bottom", "offset": 16, "labels": false, "ticks": false, "domainWidth": 1.5, "title": null}}}},
          {"width": 120, "height": 79, "title": {"text": "dLN", "fontSize": 14, "offset": 3},
           "data": {"name": "cells"}, "transform": [{"filter": "datum.virus == 'PR8' && datum.organ == 'dLN'"}],
           "resolve": {"scale": {"x": "independent"}},
           "layer": [
             {"mark": {"type": "bar", "strokeWidth": 1},
              "encoding": {
                "x": {"field": "mouse", "type": "ordinal", "scale": {"paddingInner": 0.3, "paddingOuter": 0.1}, "axis": {"title": null, "labelAngle": 0, "ticks": false, "labelFontSize": 9, "labelPadding": 2}},
                "xOffset": {"field": "strain", "scale": {"domain": ["WT", "CL-4"], "paddingInner": 0.25}},
                "y": {"field": "count", "type": "quantitative", "scale": {"domain": [0, 4000]}, "axis": {"title": null, "values": [0, 1000, 2000, 3000, 4000], "labelExpr": "datum.value == 0 ? '0' : format(datum.value / pow(10, floor(log(datum.value) / LN10 + 1e-9)), '.1f') + 'x10' + ['⁰','¹','²','³','⁴','⁵','⁶'][floor(log(datum.value) / LN10 + 1e-9)]", "labelFontSize": 8, "tickSize": 3, "labelPadding": 1}},
                "fill": {"field": "strain", "type": "nominal", "scale": {"domain": ["CL-4", "WT"], "range": ["white", "black"]}, "legend": {"orient": "none", "legendX": 108, "legendY": -11.7, "title": null, "direction": "vertical", "symbolType": "square", "symbolSize": 64, "symbolStrokeColor": "black", "symbolStrokeWidth": 1, "labelFontSize": 10, "rowPadding": 0, "padding": 0, "labelOffset": 4}},
                "stroke": {"field": "strain", "type": "nominal", "scale": {"domain": ["CL-4", "WT"], "range": ["#999", "black"]}, "legend": null}}},
             {"data": {"values": [{"end": 1, "level": -810}]}, "mark": {"type": "point", "shape": "triangle-right", "filled": true, "color": "black", "size": 28, "opacity": 1},
              "encoding": {"x": {"field": "end", "type": "quantitative", "scale": {"domain": [0, 1]}, "axis": {"orient": "bottom", "offset": 16, "labels": false, "ticks": false, "domainWidth": 1.5, "title": null}}, "y": {"field": "level", "type": "quantitative"}}}
           ]}
        ]
      }
    ]
  }
]
}
